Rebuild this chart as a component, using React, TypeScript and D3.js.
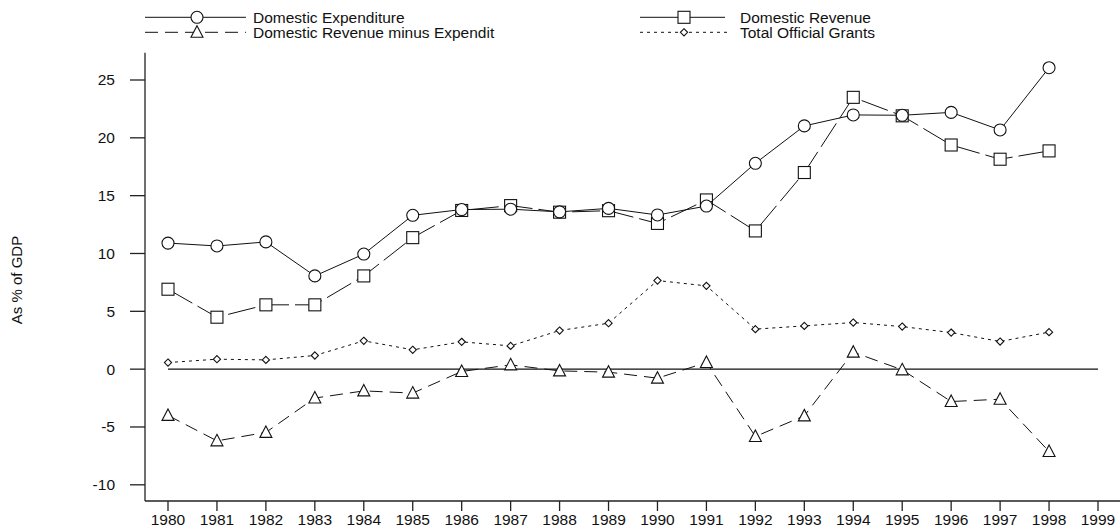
import React from "react";
import * as d3 from "d3";

const years = [1980,1981,1982,1983,1984,1985,1986,1987,1988,1989,1990,1991,1992,1993,1994,1995,1996,1997,1998];
const tickYears = [1980,1981,1982,1983,1984,1985,1986,1987,1988,1989,1990,1991,1992,1993,1994,1995,1996,1997,1998,1999];
const yTicks = [-10,-5,0,5,10,15,20,25];

const expenditure = [10.9,10.65,11.0,8.06,9.95,13.3,13.8,13.83,13.6,13.9,13.33,14.1,17.8,21.03,21.98,21.95,22.2,20.68,26.06];
const revenue = [6.91,4.49,5.56,5.56,8.06,11.37,13.72,14.14,13.57,13.7,12.6,14.63,11.95,17.0,23.5,21.9,19.38,18.15,18.87];
const balance = [-4.0,-6.2,-5.47,-2.5,-1.88,-2.07,-0.2,0.37,-0.15,-0.26,-0.78,0.57,-5.82,-4.04,1.47,-0.06,-2.8,-2.6,-7.12];
const grants = [0.57,0.86,0.8,1.18,2.45,1.67,2.36,2.01,3.34,3.97,7.66,7.2,3.46,3.74,4.03,3.68,3.16,2.39,3.2];

const labels = ["Domestic Expenditure","Domestic Revenue","Domestic Revenue minus Expendit","Total Official Grants"];

const FONT = "'Liberation Sans', Arial, Helvetica, sans-serif";

type Shape = "circle" | "square" | "triangle" | "diamond";

function Marker({ x, y, shape }: { x: number; y: number; shape: Shape }) {
  const common = { fill: "white", stroke: "#111", strokeWidth: 1.1 };
  if (shape === "circle") return <circle cx={x} cy={y} r={6} {...common} />;
  if (shape === "square") return <rect x={x - 6} y={y - 6} width={12} height={12} {...common} />;
  if (shape === "triangle")
    return <path d={`M${x},${y - 6.5}L${x + 6},${y + 5}L${x - 6},${y + 5}Z`} {...common} />;
  return <path d={`M${x},${y - 3.6}L${x + 3.6},${y}L${x},${y + 3.6}L${x - 3.6},${y}Z`} {...common} />;
}

export default function App() {
  const width = 1120, height = 530;
  const x = d3.scaleLinear().domain([1980, 1999]).range([168, 1098]);
  const y = d3.scaleLinear().domain([-11.4, 27.36]).range([501, 52.7]);
  const axisX = 145, axisY = 501;

  const line = d3.line<[number, number]>().x(d => x(d[0])).y(d => y(d[1]));

  const series: { vals: number[]; shape: Shape; dash: string | undefined; lw: number }[] = [
    { vals: grants, shape: "diamond", dash: "3,4", lw: 1 },
    { vals: balance, shape: "triangle", dash: "13,7", lw: 1 },
    { vals: revenue, shape: "square", dash: "28,6", lw: 1 },
    { vals: expenditure, shape: "circle", dash: undefined, lw: 1 },
  ];

  const legend = [
    { label: labels[0], x0: 145, x1: 246, mx: 197, ty: 17.3, tx: 253, shape: "circle" as Shape, dash: undefined },
    { label: labels[2], x0: 145, x1: 246, mx: 197, ty: 32.3, tx: 253, shape: "triangle" as Shape, dash: "13,7" },
    { label: labels[1], x0: 640, x1: 725, mx: 684, ty: 17.3, tx: 740, shape: "square" as Shape, dash: undefined },
    { label: labels[3], x0: 640, x1: 731, mx: 684, ty: 32.3, tx: 740, shape: "diamond" as Shape, dash: "3,4" },
  ];

  return (
    <svg width={width} height={height} style={{ position: "absolute", left: 0, top: 0, background: "white" }} fontFamily={FONT}>
      {/* legend */}
      {legend.map((l, i) => (
        <g key={i}>
          <line x1={l.x0} x2={l.x1} y1={l.ty} y2={l.ty} stroke="#111" strokeWidth={1} strokeDasharray={l.dash} />
          <Marker x={l.mx} y={l.ty} shape={l.shape} />
          <text x={l.tx} y={l.ty + 5.3} fontSize={15.5} fill="#111">{l.label}</text>
        </g>
      ))}

      {/* axes */}
      <line x1={axisX} x2={axisX} y1={52.7} y2={axisY} stroke="#222" strokeWidth={1.3} />
      <line x1={axisX} x2={1120} y1={axisY} y2={axisY} stroke="#222" strokeWidth={1.3} />
      {yTicks.map(t => (
        <g key={t}>
          <line x1={axisX - 15} x2={axisX} y1={y(t)} y2={y(t)} stroke="#222" strokeWidth={1.3} />
          <text x={115} y={y(t) + 5.5} textAnchor="end" fontSize={15.5} fill="#111">{t}</text>
        </g>
      ))}
      {tickYears.map(t => (
        <g key={t}>
          <line x1={x(t)} x2={x(t)} y1={axisY} y2={axisY + 10} stroke="#222" strokeWidth={1.3} />
          <text x={x(t)} y={525} textAnchor="middle" fontSize={15.5} fill="#111">{t}</text>
        </g>
      ))}
      <text transform={`translate(22,280) rotate(-90)`} textAnchor="middle" fontSize={15} fill="#111">As % of GDP</text>

      {/* zero line */}
      <line x1={x(1980)} x2={x(1999)} y1={y(0)} y2={y(0)} stroke="#111" strokeWidth={1.2} />

      {/* series */}
      {series.map((s, i) => {
        const pts = years.map((yr, j) => [yr, s.vals[j]] as [number, number]);
        return (
          <g key={i}>
            <path d={line(pts) || ""} fill="none" stroke="#111" strokeWidth={s.lw} strokeDasharray={s.dash} />
            {pts.map((p, j) => (
              <Marker key={j} x={x(p[0])} y={y(p[1])} shape={s.shape} />
            ))}
          </g>
        );
      })}
    </svg>
  );
}
